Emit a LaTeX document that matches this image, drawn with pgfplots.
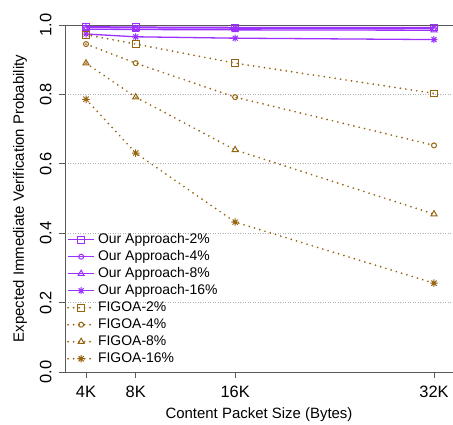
\documentclass[border=0pt]{standalone}
\usepackage{fontspec}
\setmainfont{Liberation Sans}
\usepackage{pgfplots}
\pgfplotsset{compat=1.18}
\definecolor{ourp}{RGB}{155,48,255}
\definecolor{figb}{RGB}{150,100,15}
\pgfdeclareplotmark{rstar}{%
  \pgfpathmoveto{\pgfqpoint{-\pgfplotmarksize}{0pt}}\pgfpathlineto{\pgfqpoint{\pgfplotmarksize}{0pt}}%
  \pgfpathmoveto{\pgfqpoint{0pt}{-\pgfplotmarksize}}\pgfpathlineto{\pgfqpoint{0pt}{\pgfplotmarksize}}%
  \pgfpathmoveto{\pgfqpoint{-0.707\pgfplotmarksize}{-0.707\pgfplotmarksize}}\pgfpathlineto{\pgfqpoint{0.707\pgfplotmarksize}{0.707\pgfplotmarksize}}%
  \pgfpathmoveto{\pgfqpoint{-0.707\pgfplotmarksize}{0.707\pgfplotmarksize}}\pgfpathlineto{\pgfqpoint{0.707\pgfplotmarksize}{-0.707\pgfplotmarksize}}%
  \pgfusepathqstroke}
\pgfplotsset{figline/.style={figb, line width=1.9bp, line cap=round, dash pattern=on 0bp off 5.5bp}}
\begin{document}
\begin{tikzpicture}
\begin{axis}[
  scale only axis, width=388bp, height=347bp,
  xmin=2.31, xmax=33.53, ymin=0, ymax=1,
  axis x line=box, axis y line=left,
  axis line style={-, draw=black!65, line width=0.8bp},
  xtick pos=bottom, ytick pos=left, tick align=outside,
  major tick length=6bp, tick style={black!65, line width=0.8bp},
  xtick={4,8,16,32}, xticklabels={4K,8K,16K,32K},
  ytick={0,0.2,0.4,0.6,0.8,1.0},
  yticklabel style={rotate=90, anchor=south, /pgf/number format/.cd, fixed, fixed zerofill, precision=1},
  yticklabel shift=4bp, xticklabel shift=5bp,
  /pgf/number format/assume math mode=true,
  tick label style={font=\fontsize{16.5}{19}\selectfont},
  label style={font=\fontsize{15}{18}\selectfont},
  xlabel={Content Packet Size (Bytes)},
  ylabel={Expected Immediate Verification Probability},
  xlabel shift=3bp, ylabel shift=6bp,
  ymajorgrids, grid style={black!30, dash pattern=on 1bp off 1.5bp, line width=0.6bp},
  clip=false,
  legend cell align=left,
  legend style={at={(rel axis cs:0,1)}, anchor=north west, xshift=2bp, yshift=-206bp,
    draw=none, fill=none, row sep=0pt, inner sep=0pt,
    font=\fontsize{14}{16}\selectfont,
    nodes={inner ysep=1.5bp, inner xsep=3bp, text height=11bp, text depth=3bp}},
  legend image code/.code={%
    \draw[mark repeat=2, mark phase=2, #1] plot coordinates {(0bp,0bp) (13bp,0bp) (26bp,0bp)};},
]
\addplot[ourp, line width=1.3bp, mark=square, mark size=3.3bp, mark options={solid, line width=1bp}]
 coordinates {(4,0.995) (8,0.994) (16,0.993) (32,0.993)};
\addlegendentry{Our Approach-2\%}
\addplot[ourp, line width=1.3bp, mark=o, mark size=2.5bp, mark options={solid, line width=1bp}]
 coordinates {(4,0.993) (8,0.992) (16,0.991) (32,0.990)};
\addlegendentry{Our Approach-4\%}
\addplot[ourp, line width=1.3bp, mark=triangle, mark size=3.5bp, mark options={solid, line width=1bp}]
 coordinates {(4,0.988) (8,0.987) (16,0.986) (32,0.985)};
\addlegendentry{Our Approach-8\%}
\addplot[ourp, line width=1.3bp, mark=rstar, mark size=3.5bp, mark options={solid, line width=1bp}]
 coordinates {(4,0.974) (8,0.966) (16,0.962) (32,0.958)};
\addlegendentry{Our Approach-16\%}
\addplot[figline, mark=square, mark size=3.3bp, mark options={solid, line width=1bp}]
 coordinates {(4,0.972) (8,0.945) (16,0.890) (32,0.803)};
\addlegendentry{FIGOA-2\%}
\addplot[figline, mark=o, mark size=2.5bp, mark options={solid, line width=1bp}]
 coordinates {(4,0.945) (8,0.890) (16,0.792) (32,0.653)};
\addlegendentry{FIGOA-4\%}
\addplot[figline, mark=triangle, mark size=3.5bp, mark options={solid, line width=1bp}]
 coordinates {(4,0.890) (8,0.792) (16,0.640) (32,0.455)};
\addlegendentry{FIGOA-8\%}
\addplot[figline, mark=rstar, mark size=3.5bp, mark options={solid, line width=1bp}]
 coordinates {(4,0.786) (8,0.631) (16,0.432) (32,0.256)};
\addlegendentry{FIGOA-16\%}
\end{axis}
\pgfresetboundingbox
\path ([xshift=-65bp,yshift=25bp]current axis.north west) rectangle ([yshift=-53bp]current axis.south east);
\end{tikzpicture}
\end{document}
